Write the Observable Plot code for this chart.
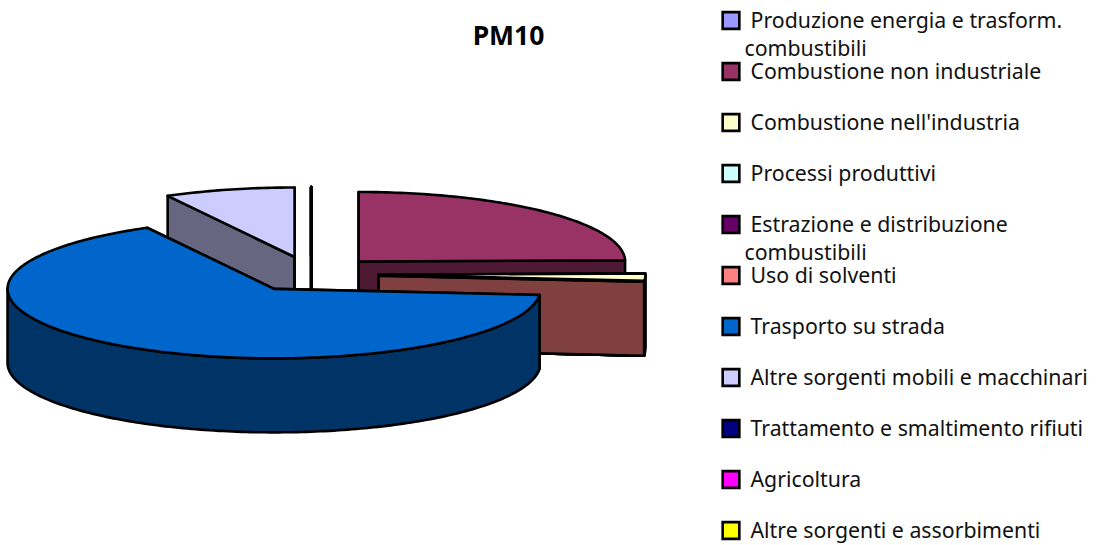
<!DOCTYPE html>
<html>
<head>
<meta charset="utf-8">
<script src="https://cdn.jsdelivr.net/npm/d3@7"></script>
<script src="https://cdn.jsdelivr.net/npm/@observablehq/plot@0.6"></script>
<style>html,body{margin:0;padding:0;background:#fff}svg{display:block}</style>
</head>
<body>
<div id="chart"></div>
<script>
const title = "PM10";
const categories = [
  "Produzione energia e trasform.\ncombustibili",
  "Combustione non industriale",
  "Combustione nell'industria",
  "Processi produttivi",
  "Estrazione e distribuzione\ncombustibili",
  "Uso di solventi",
  "Trasporto su strada",
  "Altre sorgenti mobili e macchinari",
  "Trattamento e smaltimento rifiuti",
  "Agricoltura",
  "Altre sorgenti e assorbimenti"
];
const values = [0, 24.7, 1.7, 0, 0, 0, 65.7, 7.9, 0, 0, 0];
const colors = ["#9999ff","#993366","#ffffcc","#ccffff","#660066","#ff8080","#0066cc","#ccccff","#000080","#ff00ff","#ffff00"];
const sideColors = ["#4d4d80","#4d1933","#808066","#668080","#330033","#804040","#003366","#666680","#000040","#800080","#808000"];

// Pie projection
const W = 1096, H = 545;
const cx = 310.7, cy = 273.6, rx = 266.5, ry = 69.5, depth = 74, explode = 0.254;
const FONT = "'Noto Sans', sans-serif";

const arcs = d3.pie().sort(null).value(d => d)(values);
const deg = Math.PI / 180;
const slices = arcs.map((a, i) => {
  const m = (a.startAngle + a.endAngle) / 2;
  return {i, a0: a.startAngle, a1: a.endAngle,
    ax: cx + explode * rx * Math.sin(m),
    ay: cy - explode * ry * Math.cos(m)};
}).sort((p, q) => p.ay - q.ay);

const rows = [];
let pid = 0;
function poly(pts, fill) {
  const id = pid++;
  [...pts, pts[0]].forEach(([x, y]) => rows.push({id, x, y, fill}));
}
function rim(s, t, dy = 0) {
  return [s.ax + rx * Math.sin(t), s.ay - ry * Math.cos(t) + dy];
}
function sweep(t0, t1) {
  const n = Math.max(1, Math.ceil((t1 - t0) / deg));
  return d3.range(n + 1).map(k => t0 + (t1 - t0) * k / n);
}
for (const s of slices) {
  const side = sideColors[s.i], top = colors[s.i];
  for (const t of [s.a0, s.a1]) {
    poly([[s.ax, s.ay], rim(s, t), rim(s, t, depth), [s.ax, s.ay + depth]], side);
  }
  const w0 = Math.max(s.a0, Math.PI / 2), w1 = Math.min(s.a1, 3 * Math.PI / 2);
  if (w1 > w0) {
    const ts = sweep(w0, w1);
    poly([...ts.map(t => rim(s, t)), ...ts.slice().reverse().map(t => rim(s, t, depth))], side);
  }
  poly([[s.ax, s.ay], ...sweep(s.a0, s.a1).map(t => rim(s, t))], top);
}

// Legend
const legendX = 730.5, textX = 750, wrapX = 744, legendY0 = 20, legendStep = 51, wrapDy = 27.5;
const legend = categories.map((c, i) => ({c: c.split("\n"), i, y: legendY0 + legendStep * i}));
const legendLines = legend.flatMap(d => d.c.map((t, j) => ({
  t, x: j ? wrapX : textX, y: d.y + 1 + j * wrapDy
})));

const plot = Plot.plot({
  width: W, height: H, margin: 0,
  x: {domain: [0, W], range: [0, W], axis: null},
  y: {domain: [0, H], range: [0, H], axis: null},
  color: {type: "identity"},
  style: {background: "#fff"},
  marks: [
    Plot.line(rows, {x: "x", y: "y", z: "id", fill: "fill", stroke: "#000",
      strokeWidth: 2.6, strokeLinejoin: "round", curve: "linear"}),
    Plot.text([title], {x: () => 508, y: () => 36, text: d => d, fontFamily: FONT,
      fontWeight: "bold", fontSize: 26.5, fill: "#000"}),
    Plot.dot(legend, {x: () => legendX, y: "y", symbol: "square", r: 9.4,
      fill: d => colors[d.i], stroke: "#000", strokeWidth: 2.6}),
    Plot.text(legendLines, {x: "x", y: "y", text: "t", textAnchor: "start", lineAnchor: "middle",
      fontFamily: FONT, fontSize: 21.3, fill: "#111"})
  ]
});
document.getElementById("chart").append(plot);
</script>
</body>
</html>
